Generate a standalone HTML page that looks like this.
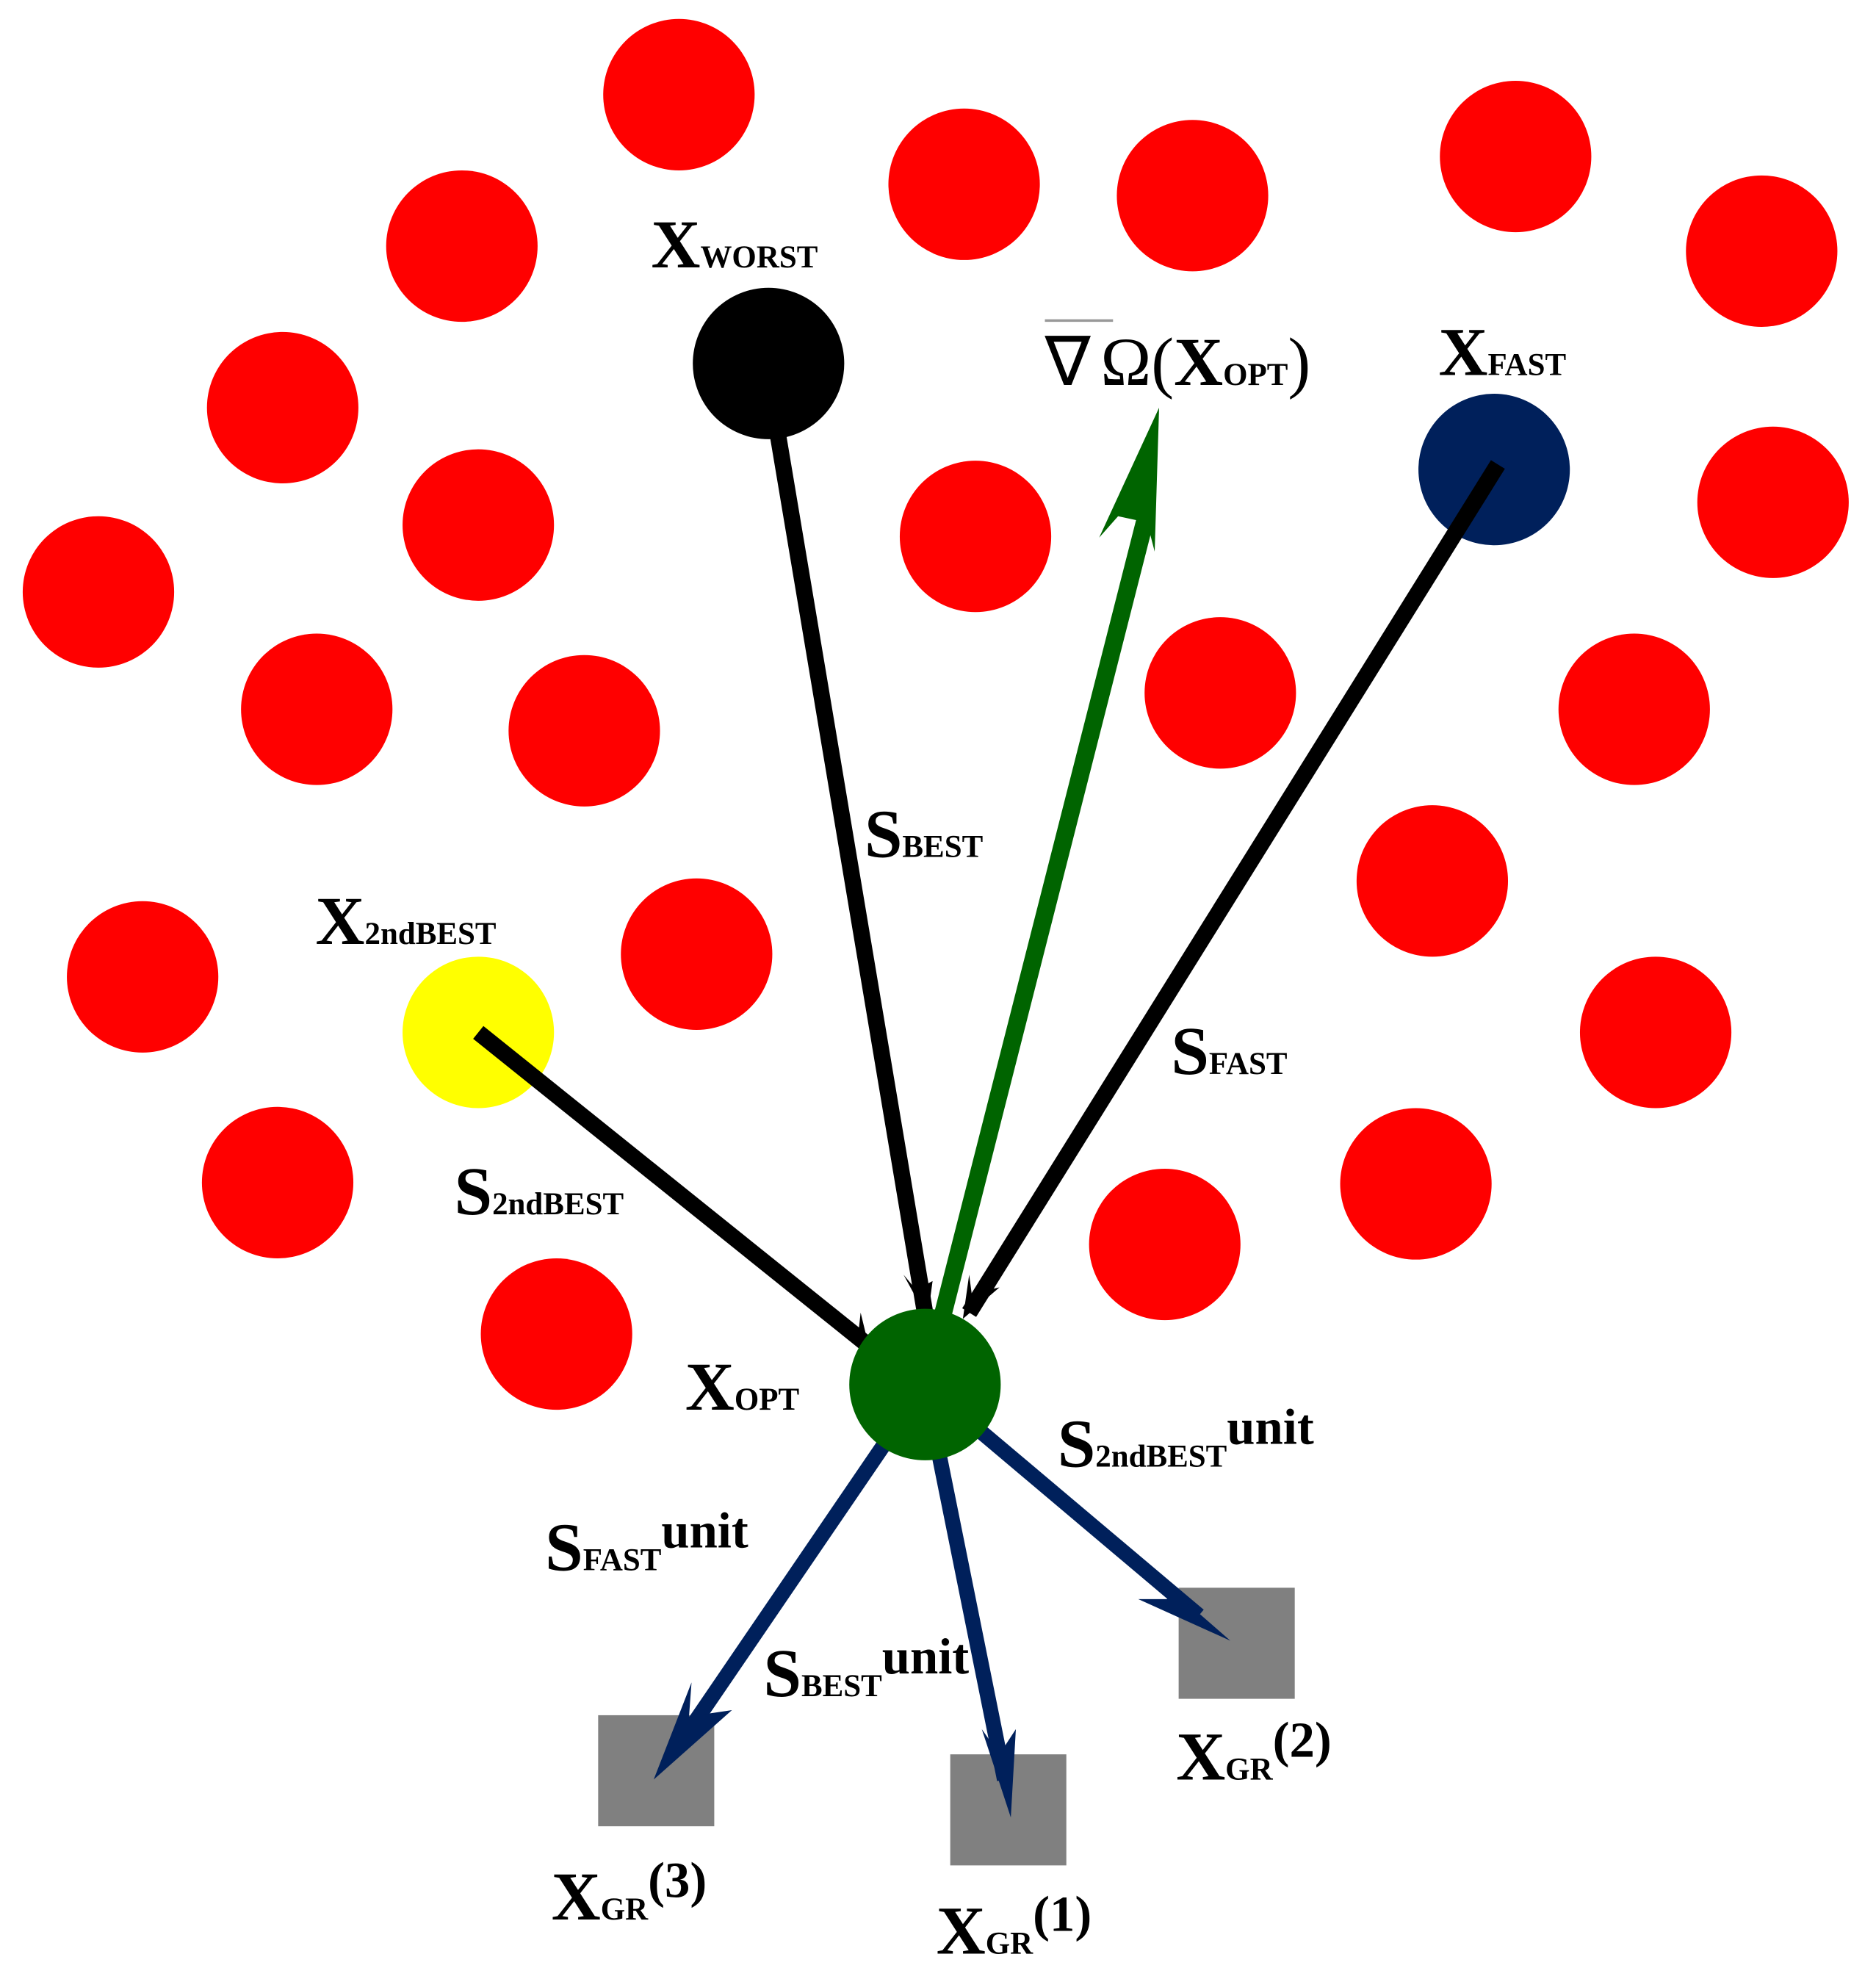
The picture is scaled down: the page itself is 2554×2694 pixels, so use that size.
<!DOCTYPE html>
<html><head><meta charset="utf-8"><style>
html,body{margin:0;padding:0;background:#fff;}
svg{display:block;}
text{font-family:"Liberation Serif",serif;font-weight:bold;fill:#000;}
</style></head><body>
<svg width="2554" height="2694" viewBox="0 0 1486.6 1568" preserveAspectRatio="none" xmlns="http://www.w3.org/2000/svg">
<g fill="#ff0000">
<circle cx="538" cy="75" r="60"/><circle cx="764" cy="146" r="60"/><circle cx="945" cy="155" r="60"/>
<circle cx="1201" cy="124" r="60"/><circle cx="1396" cy="199" r="60"/><circle cx="366" cy="195" r="60"/>
<circle cx="224" cy="323" r="60"/><circle cx="379" cy="416" r="60"/><circle cx="773" cy="425" r="60"/>
<circle cx="1405" cy="398" r="60"/><circle cx="78" cy="469" r="60"/><circle cx="251" cy="562" r="60"/>
<circle cx="463" cy="579" r="60"/><circle cx="967" cy="549" r="60"/><circle cx="1295" cy="562" r="60"/>
<circle cx="1135" cy="698" r="60"/><circle cx="113" cy="774" r="60"/><circle cx="552" cy="756" r="60"/>
<circle cx="1312" cy="818" r="60"/><circle cx="220" cy="937" r="60"/><circle cx="1122" cy="938" r="60"/>
<circle cx="923" cy="986" r="60"/><circle cx="441" cy="1057" r="60"/>
</g>
<circle cx="609" cy="288" r="60" fill="#000"/>
<circle cx="1184" cy="372" r="60" fill="#00205b"/>
<circle cx="379" cy="818" r="60" fill="#ffff00"/>
<g fill="#808080">
<rect x="474" y="1359" width="92" height="88"/>
<rect x="753" y="1390" width="92" height="88"/>
<rect x="934" y="1258" width="92" height="88"/>
</g>
<g stroke="#000" stroke-width="13" fill="none">
<line x1="609" y1="300" x2="733" y2="1040"/>
<line x1="1187" y1="368" x2="768" y2="1040"/>
<line x1="379" y1="818" x2="693" y2="1070"/>
</g>
<g fill="#000">
<polygon points="735,1045 716,1010 726,1022 739,1015"/>
<polygon points="763,1045 768,1010 770,1025 792,1020"/>
<polygon points="690,1073 670,1055 680,1058 682,1040"/>
</g>
<line x1="733" y1="1097" x2="908" y2="410" stroke="#006400" stroke-width="14"/>
<polygon points="918.5,323 915,437 909,414 886,409 871,426" fill="#006400"/>
<g stroke="#00205b" stroke-width="12">
<line x1="733" y1="1097" x2="540" y2="1380"/>
<line x1="733" y1="1097" x2="796" y2="1410"/>
<line x1="733" y1="1097" x2="950" y2="1280"/>
</g>
<g fill="#00205b">
<polygon points="518,1410 548,1333 546,1360 580,1355"/>
<polygon points="801,1440 778,1370 792,1390 805,1370"/>
<polygon points="975,1300 902,1267 925,1267 912,1245"/>
</g>
<circle cx="733" cy="1097" r="60" fill="#006400"/>
<text font-size="54" x="516" y="212">X<tspan font-size="25">WORST</tspan></text>
<text x="828" y="305" font-size="54"><tspan font-weight="normal" font-size="54">∇</tspan><tspan font-weight="normal" dx="8">Ω(</tspan>X<tspan font-size="25">OPT</tspan><tspan font-weight="normal" font-size="54">)</tspan></text>
<line x1="828" y1="254" x2="882" y2="254" stroke="#999" stroke-width="2"/>
<text font-size="54" x="1140" y="297">X<tspan font-size="25">FAST</tspan></text>
<text font-size="54" x="685" y="679">S<tspan font-size="25">BEST</tspan></text>
<text font-size="54" x="250" y="748">X<tspan font-size="25">2ndBEST</tspan></text>
<text font-size="54" x="928" y="851">S<tspan font-size="25">FAST</tspan></text>
<text font-size="54" x="360" y="962">S<tspan font-size="25">2ndBEST</tspan></text>
<text font-size="54" x="543" y="1117">X<tspan font-size="25">OPT</tspan></text>
<text font-size="54" x="838" y="1162">S<tspan font-size="25">2ndBEST</tspan><tspan font-size="40" dy="-18">unit</tspan></text>
<text font-size="54" x="432" y="1244">S<tspan font-size="25">FAST</tspan><tspan font-size="40" dy="-18">unit</tspan></text>
<text font-size="54" x="605" y="1344">S<tspan font-size="25">BEST</tspan><tspan font-size="40" dy="-18">unit</tspan></text>
<text font-size="54" x="932" y="1410">X<tspan font-size="25">GR</tspan><tspan font-size="40" dy="-18">(2)</tspan></text>
<text font-size="54" x="437" y="1521">X<tspan font-size="25">GR</tspan><tspan font-size="40" dy="-18">(3)</tspan></text>
<text font-size="54" x="742" y="1548">X<tspan font-size="25">GR</tspan><tspan font-size="40" dy="-18">(1)</tspan></text>
</svg>
</body></html>
